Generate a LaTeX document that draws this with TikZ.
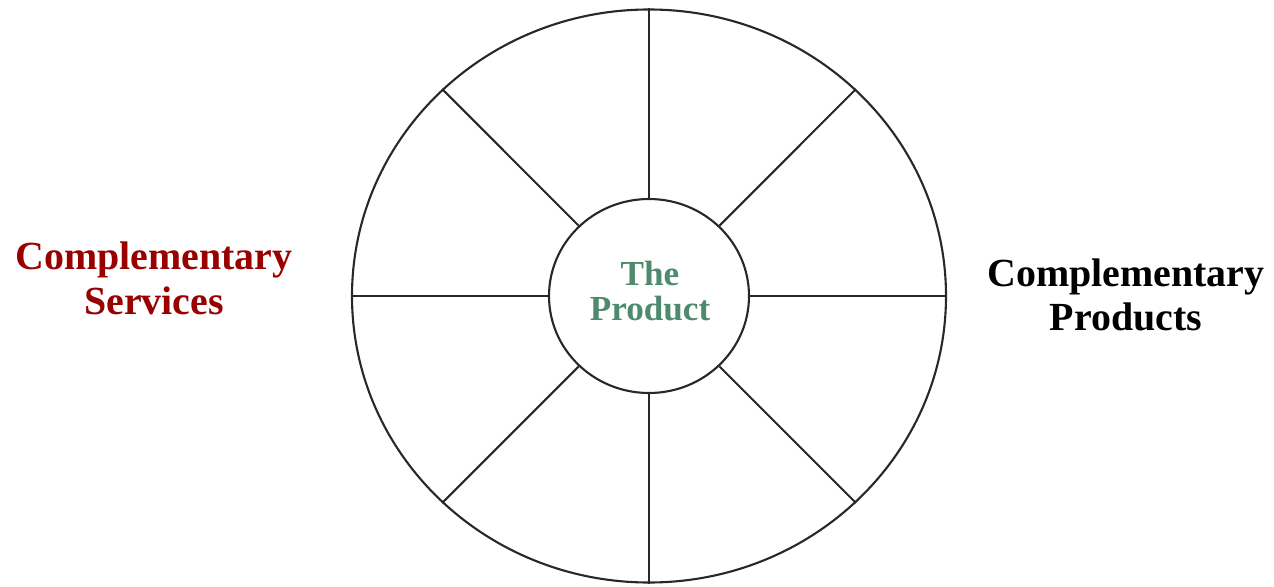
\documentclass[tikz,border=0pt]{standalone}
\usepackage{fontspec}
\setmainfont{Liberation Serif}
\usetikzlibrary{positioning, shapes.geometric}
\definecolor{servred}{RGB}{153,0,0}
\definecolor{prodgreen}{RGB}{78,138,110}
\definecolor{rimgray}{RGB}{40,40,40}

\begin{document}
\begin{tikzpicture}[x=0.02cm, y=0.02cm,
  rim/.style={draw=rimgray, line width=1.2pt, ellipse, inner sep=0pt},
  label/.style={font=\bfseries\fontsize{22.7}{25.5}\selectfont, align=center}]
  \useasboundingbox (0,0) rectangle (1274,586);
  % wheel
  \node[rim, minimum width=594*0.02cm, minimum height=573*0.02cm] (wheel) at (649,290) {};
  \node[rim, minimum width=200*0.02cm, minimum height=194*0.02cm] (hub) at (649,290) {};
  \foreach \a in {0,45,...,315} {
    \draw[rimgray, line width=1.2pt] (hub.\a) -- (wheel.\a);
  }
  % labels
  \node[prodgreen, font=\bfseries\fontsize{20}{20}\selectfont, align=center] (product) at (650,295) {The\\Product};
  \node[label, servred] (services) at (154,308) {Complementary\\Services};
  \node[label] (products) at (1126,291) {Complementary\\Products};
\end{tikzpicture}
\end{document}
